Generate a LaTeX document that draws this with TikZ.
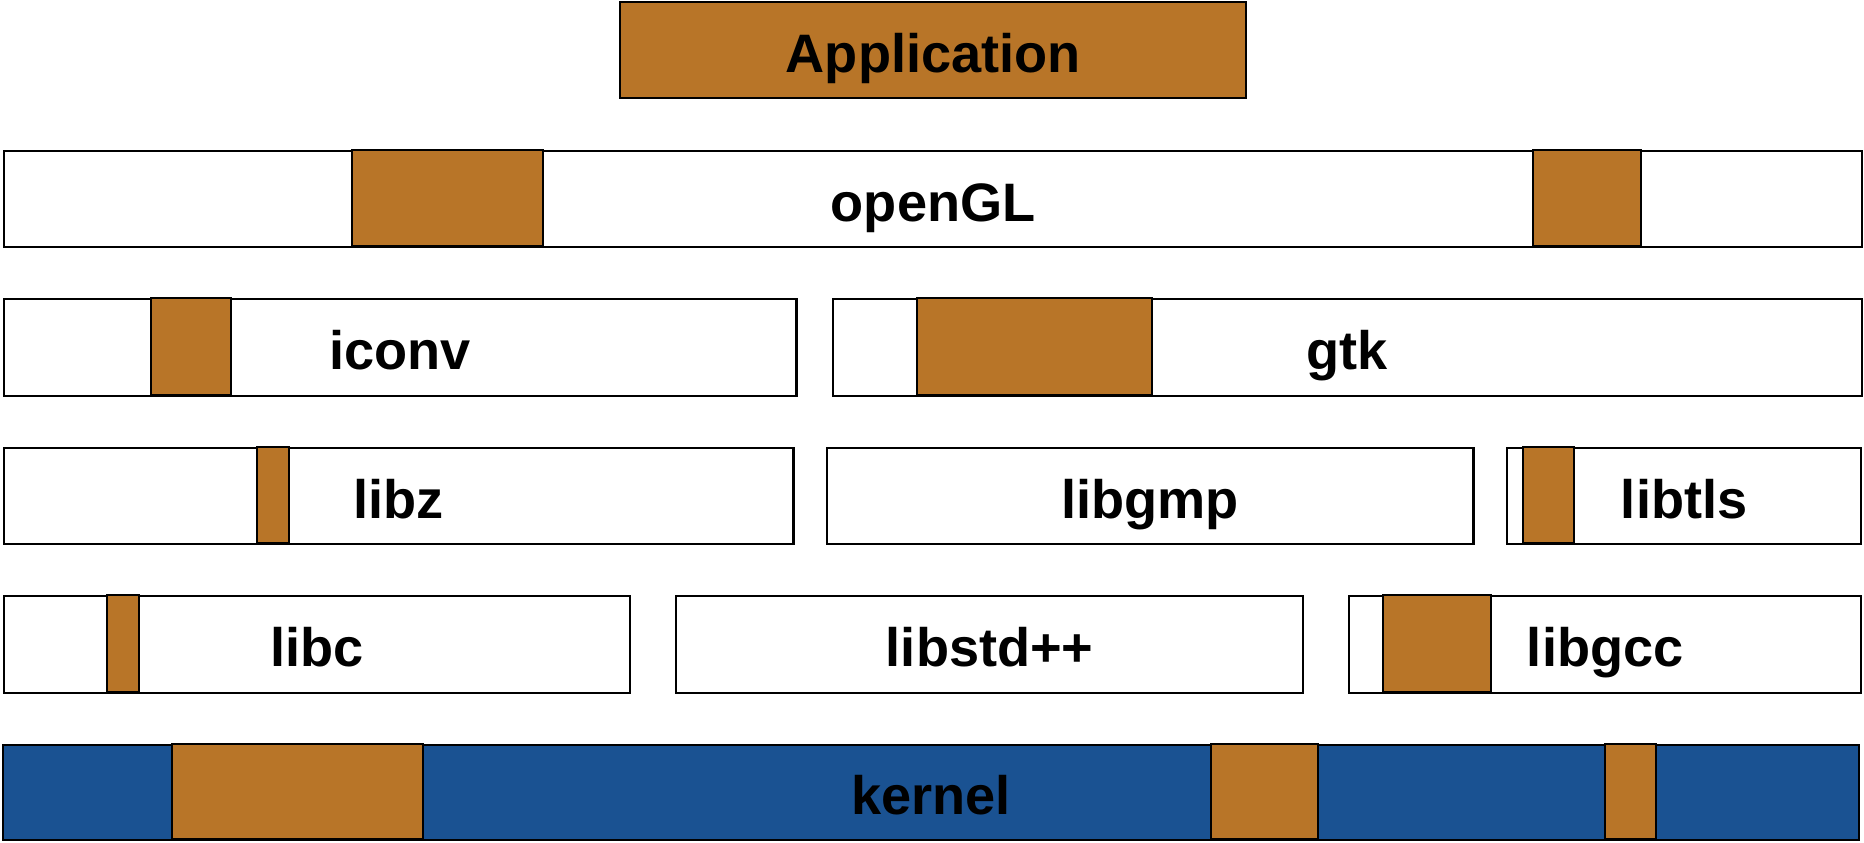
\documentclass[tikz,border=0pt]{standalone}
\usepackage{fontspec}
\setmainfont{Liberation Sans}
\definecolor{Copper}{HTML}{B87528}
\definecolor{KernelBlue}{HTML}{1A5292}

\begin{document}
\begin{tikzpicture}[x=0.01cm, y=-0.01cm,
    libbox/.style={draw=black, line width=0.6pt, fill=white, inner sep=0pt, anchor=north west,
        text height=0.44cm, text depth=0cm, font=\bfseries\fontsize{15.4}{18}\selectfont},
    patch/.style={draw=black, line width=0.6pt, fill=Copper}]
    \useasboundingbox (0,0) rectangle (1864,842);
    % layers
    \node[libbox, fill=Copper, minimum width=6.26cm, minimum height=0.96cm] (app) at (619,1) {Application};
    \node[libbox, minimum width=18.57cm, minimum height=0.96cm] (opengl) at (3,150) {openGL};
    \node[libbox, minimum width=7.92cm, minimum height=0.97cm] (iconv) at (3,298) {iconv};
    \node[libbox, minimum width=10.28cm, minimum height=0.97cm] (gtk) at (832,298) {gtk};
    \node[libbox, minimum width=7.89cm, minimum height=0.96cm] (libz) at (3,447) {libz};
    \node[libbox, minimum width=6.46cm, minimum height=0.96cm] (libgmp) at (826,447) {libgmp};
    \node[libbox, minimum width=3.54cm, minimum height=0.96cm] (libtls) at (1506,447) {libtls};
    \node[libbox, minimum width=6.26cm, minimum height=0.97cm] (libc) at (3,595) {libc};
    \node[libbox, minimum width=6.27cm, minimum height=0.97cm] (libstdcpp) at (675,595) {libstd++};
    \node[libbox, minimum width=5.12cm, minimum height=0.97cm] (libgcc) at (1348,595) {libgcc};
    \node[libbox, fill=KernelBlue, minimum width=18.55cm, minimum height=0.95cm] (kernel) at (2,744) {kernel};
    % used parts
    \foreach \a/\b in {352/543, 1533/1641}
        \draw[patch] (\a,150) rectangle (\b,246);
    \foreach \a/\b in {151/231, 917/1152}
        \draw[patch] (\a,298) rectangle (\b,395);
    \foreach \a/\b in {257/289, 1523/1574}
        \draw[patch] (\a,447) rectangle (\b,543);
    \foreach \a/\b in {107/139, 1383/1491}
        \draw[patch] (\a,595) rectangle (\b,692);
    \foreach \a/\b in {172/423, 1211/1318, 1605/1656}
        \draw[patch] (\a,744) rectangle (\b,839);
\end{tikzpicture}
\end{document}
